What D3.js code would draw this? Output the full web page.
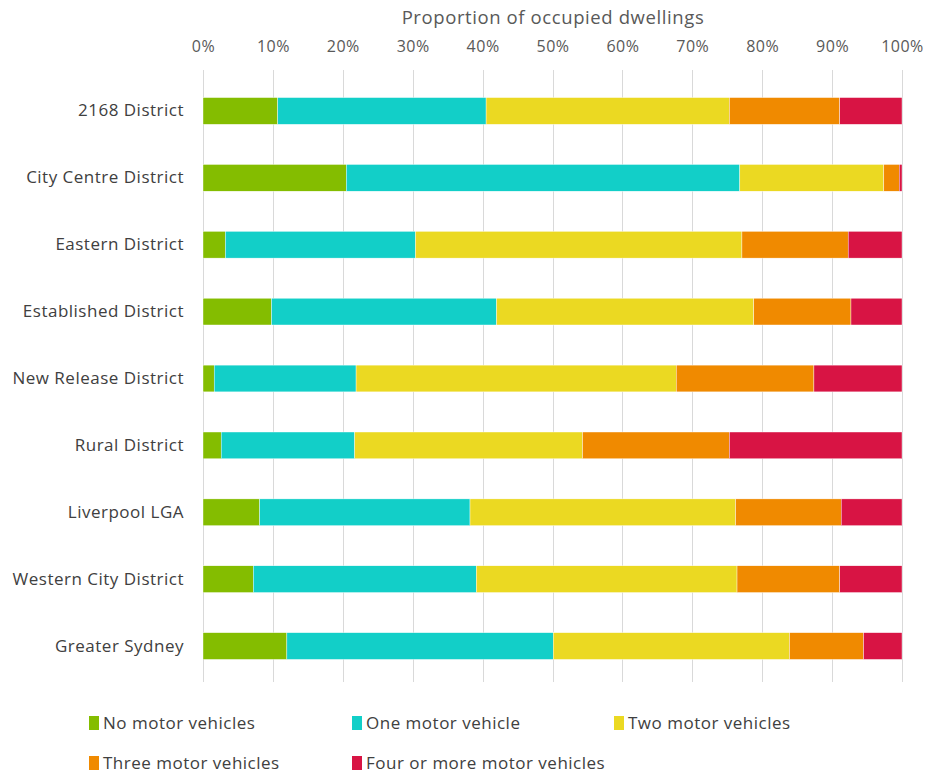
<!DOCTYPE html>
<html>
<head>
<meta charset="utf-8">
<script src="https://cdn.jsdelivr.net/npm/d3@7"></script>
<style>
  html, body { margin: 0; padding: 0; background: #fff; }
  svg { display: block; }
  text { font-family: "Open Sans", Lato, sans-serif; }
</style>
</head>
<body>
<svg id="chart" width="928" height="773"></svg>
<script>
const categories = ["2168 District", "City Centre District", "Eastern District", "Established District",
  "New Release District", "Rural District", "Liverpool LGA", "Western City District", "Greater Sydney"];
const seriesNames = ["No motor vehicles", "One motor vehicle", "Two motor vehicles",
  "Three motor vehicles", "Four or more motor vehicles"];
const noVehicles    = [10.7, 20.5,  3.2,  9.8,  1.6,  2.6,  8.1,  7.2, 12.0];
const oneVehicle    = [29.8, 56.3, 27.2, 32.2, 20.3, 19.1, 30.1, 31.9, 38.1];
const twoVehicles   = [34.8, 20.6, 46.7, 36.8, 45.8, 32.6, 38.0, 37.3, 33.8];
const threeVehicles = [15.8,  2.2, 15.2, 13.9, 19.7, 21.0, 15.1, 14.7, 10.6];
const fourPlus      = [ 8.9,  0.4,  7.7,  7.3, 12.6, 24.7,  8.7,  8.9,  5.5];
const tickValues = [0, 10, 20, 30, 40, 50, 60, 70, 80, 90, 100];
const colors = ["#84bd00", "#12cfc8", "#ebd922", "#f08a00", "#d81444"];
const axisTitle = "Proportion of occupied dwellings";

const seriesData = [noVehicles, oneVehicle, twoVehicles, threeVehicles, fourPlus];
const rows = categories.map((c, i) => {
  const r = { category: c };
  seriesNames.forEach((s, j) => r[s] = seriesData[j][i]);
  return r;
});

const FONT = "'Open Sans', Lato, sans-serif";
const svg = d3.select("#chart");
const x = d3.scaleLinear().domain([0, 100]).range([203, 902]);
const y = d3.scaleBand().domain(categories).range([77.5, 679.5]).paddingInner(0.6).paddingOuter(0.3);

// gridlines
svg.append("g").selectAll("line").data(tickValues).join("line")
  .attr("x1", d => Math.round(x(d)) + 0.5).attr("x2", d => Math.round(x(d)) + 0.5)
  .attr("y1", 70).attr("y2", 682)
  .attr("stroke", "#d9d9d9").attr("stroke-width", 1);

// top axis labels
const axis = d3.axisTop(x).tickValues(tickValues).tickFormat(d => d + "%").tickSize(0).tickPadding(0);
const gAxis = svg.append("g").attr("transform", "translate(0,52)").call(axis);
gAxis.select(".domain").remove();
gAxis.selectAll("text").attr("font-size", 16).attr("fill", "#595959")
  .attr("letter-spacing", 0.5).style("font-family", FONT);

svg.append("text").attr("x", 553).attr("y", 24).attr("text-anchor", "middle")
  .attr("font-size", 18.5).attr("letter-spacing", 0.6).attr("fill", "#595959")
  .style("font-family", FONT).text(axisTitle);

// bars
const stack = d3.stack().keys(seriesNames)(rows);
svg.append("g").selectAll("g").data(stack).join("g")
  .attr("fill", (d, i) => colors[i])
  .selectAll("rect").data(d => d).join("rect")
  .attr("x", d => x(d[0])).attr("width", d => x(d[1]) - x(d[0]))
  .attr("y", d => y(d.data.category)).attr("height", y.bandwidth())
  .attr("stroke", "#fff").attr("stroke-width", 0.4);

// category labels
const yAxis = d3.axisLeft(y).tickSize(0).tickPadding(0);
const gY = svg.append("g").attr("transform", "translate(184,0)").call(yAxis);
gY.select(".domain").remove();
gY.selectAll("text").attr("font-size", 17).attr("letter-spacing", 0.5).attr("fill", "#404040")
  .style("font-family", FONT);

// legend
const legendPos = [[89, 723], [352, 723], [614, 723], [89, 763], [352, 763]];
const lg = svg.append("g").selectAll("g").data(seriesNames).join("g")
  .attr("transform", (d, i) => `translate(${legendPos[i][0]},${legendPos[i][1]})`);
lg.append("rect").attr("x", 0).attr("y", -7).attr("width", 10).attr("height", 14)
  .attr("fill", (d, i) => colors[i]);
lg.append("text").attr("x", 14).attr("y", 0).attr("dy", "0.35em")
  .attr("font-size", 17).attr("letter-spacing", 0.5).attr("fill", "#404040")
  .style("font-family", FONT).text(d => d);
</script>
</body>
</html>
